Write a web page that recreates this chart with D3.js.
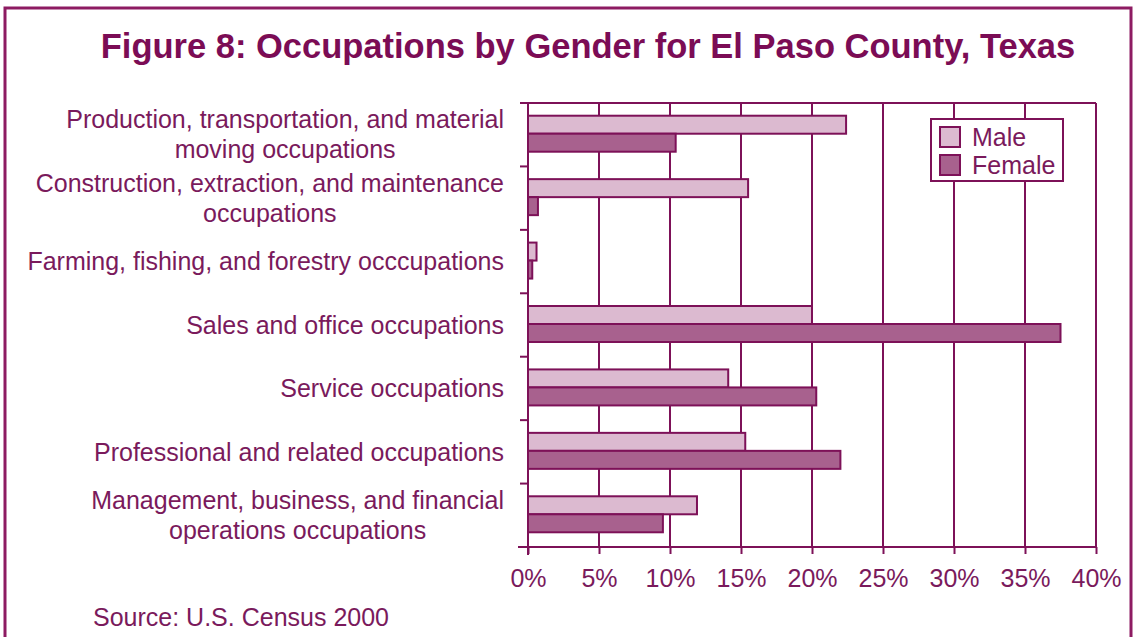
<!DOCTYPE html>
<html>
<head>
<meta charset="utf-8">
<script src="https://cdn.jsdelivr.net/npm/d3@7.9.0/dist/d3.min.js"></script>
<style>
  html, body { margin: 0; padding: 0; background: #fff; }
  svg { display: block; font-family: 'Liberation Sans', Arial, sans-serif; }
</style>
</head>
<body>
<svg id="chart" width="1137" height="637"></svg>
<script>
// categories from top to bottom, each split in lines as in the figure
const categories = [
  ['Production, transportation, and material', 'moving occupations'],
  ['Construction, extraction, and maintenance', 'occupations'],
  ['Farming, fishing, and forestry occcupations'],
  ['Sales and office occupations'],
  ['Service occupations'],
  ['Professional and related occupations'],
  ['Management, business, and financial', 'operations occupations'],
];
const maleValues = [22.4, 15.5, 0.6, 20.0, 14.1, 15.3, 11.9];
const femaleValues = [10.4, 0.7, 0.3, 37.5, 20.3, 22.0, 9.5];
const seriesNames = ['Male', 'Female'];
const xTicks = [0, 5, 10, 15, 20, 25, 30, 35, 40];

const INK = '#7d1158';
const TEXT = '#7a1a5c';
const MALE_FILL = '#dcbad0';
const FEMALE_FILL = '#a8618e';

const svg = d3.select('#chart');

// outer frame (bottom edge runs past the picture)
svg.append('path')
  .attr('d', 'M5,645 V8 H1131 V645')
  .attr('fill', 'none')
  .attr('stroke', '#8d1b62')
  .attr('stroke-width', 3);

svg.append('text')
  .attr('x', 588)
  .attr('y', 58)
  .attr('text-anchor', 'middle')
  .attr('font-size', 34.5)
  .attr('font-weight', 'bold')
  .attr('fill', '#7b0c55')
  .text('Figure 8: Occupations by Gender for El Paso County, Texas');

const plot = { left: 528, right: 1096, top: 103, bottom: 547 };

const x = d3.scaleLinear().domain([0, 40]).range([plot.left, plot.right]);
const y = d3.scaleBand()
  .domain(d3.range(categories.length))
  .range([plot.top, plot.bottom]);
const sub = d3.scaleBand()
  .domain(seriesNames)
  .range([0, 36]);

const g = svg.append('g');

// vertical gridlines
g.selectAll('line.grid')
  .data(xTicks.slice(1))
  .join('line')
  .attr('class', 'grid')
  .attr('x1', (d) => x(d))
  .attr('x2', (d) => x(d))
  .attr('y1', plot.top)
  .attr('y2', plot.bottom)
  .attr('stroke', INK)
  .attr('stroke-width', 2);

// top border of plot area
g.append('line')
  .attr('x1', plot.left - 8)
  .attr('x2', plot.right)
  .attr('y1', plot.top)
  .attr('y2', plot.top)
  .attr('stroke', INK)
  .attr('stroke-width', 2);

// bars
const rows = categories.map((c, i) => ({ i, Male: maleValues[i], Female: femaleValues[i] }));
const bandOffset = (y.bandwidth() - 36) / 2 - 1;

g.selectAll('g.row')
  .data(rows)
  .join('g')
  .attr('class', 'row')
  .attr('transform', (d) => `translate(0,${y(d.i) + bandOffset})`)
  .selectAll('rect')
  .data((d) => seriesNames.map((s) => ({ s, v: d[s] })))
  .join('rect')
  .attr('x', x(0))
  .attr('y', (d) => sub(d.s))
  .attr('width', (d) => x(d.v) - x(0))
  .attr('height', sub.bandwidth())
  .attr('fill', (d) => (d.s === 'Male' ? MALE_FILL : FEMALE_FILL))
  .attr('stroke', INK)
  .attr('stroke-width', 2);

// x axis
const xAxis = d3.axisBottom(x)
  .tickValues(xTicks)
  .tickSize(7)
  .tickPadding(15)
  .tickFormat((d) => d + '%');

const xg = svg.append('g')
  .attr('transform', `translate(0,${plot.bottom})`)
  .call(xAxis);
xg.select('.domain')
  .attr('d', `M${plot.left - 10},0H${plot.right}`)
  .attr('stroke', INK)
  .attr('stroke-width', 2);
xg.selectAll('.tick line').attr('stroke', INK).attr('stroke-width', 2);
xg.selectAll('.tick text')
  .attr('font-size', 25)
  .attr('font-family', "'Liberation Sans', Arial, sans-serif")
  .attr('fill', TEXT);

// y axis line with ticks at category boundaries
const boundaries = d3.range(categories.length + 1).map((i) => plot.top + i * y.step());
svg.append('line')
  .attr('x1', plot.left)
  .attr('x2', plot.left)
  .attr('y1', plot.top)
  .attr('y2', plot.bottom + 8)
  .attr('stroke', INK)
  .attr('stroke-width', 2);
svg.selectAll('line.ytick')
  .data(boundaries)
  .join('line')
  .attr('class', 'ytick')
  .attr('x1', plot.left - 8)
  .attr('x2', plot.left)
  .attr('y1', (d) => d)
  .attr('y2', (d) => d)
  .attr('stroke', INK)
  .attr('stroke-width', 2);

// category labels: right edge at 504, multi-line labels centred on their widest line
const labelRight = 504;
const lineGap = 30;
const labels = svg.selectAll('g.label')
  .data(categories)
  .join('g')
  .attr('class', 'label');

labels.each(function (lines, i) {
  const grp = d3.select(this);
  const cy = y(i) + y.bandwidth() / 2;
  const texts = grp.selectAll('text')
    .data(lines)
    .join('text')
    .attr('font-size', 25)
    .attr('fill', TEXT)
    .attr('dy', '0.35em')
    .attr('y', (d, j) => cy + (j - (lines.length - 1) / 2) * lineGap)
    .text((d) => d);
  const widths = texts.nodes().map((n) => n.getComputedTextLength());
  const maxW = d3.max(widths);
  texts.attr('text-anchor', 'middle').attr('x', labelRight - maxW / 2);
});

// legend
const legend = svg.append('g').attr('transform', 'translate(931,119)');
legend.append('rect')
  .attr('width', 132)
  .attr('height', 62)
  .attr('fill', '#fff')
  .attr('stroke', INK)
  .attr('stroke-width', 2);
const items = legend.selectAll('g.item')
  .data(seriesNames)
  .join('g')
  .attr('class', 'item')
  .attr('transform', (d, i) => `translate(9,${8 + i * 28})`);
items.append('rect')
  .attr('width', 20)
  .attr('height', 20)
  .attr('fill', (d) => (d === 'Male' ? MALE_FILL : FEMALE_FILL))
  .attr('stroke', INK)
  .attr('stroke-width', 2);
items.append('text')
  .attr('x', 32)
  .attr('y', 10)
  .attr('dy', '0.36em')
  .attr('font-size', 25)
  .attr('fill', TEXT)
  .text((d) => d);

svg.append('text')
  .attr('x', 93)
  .attr('y', 626)
  .attr('font-size', 25)
  .attr('fill', TEXT)
  .text('Source: U.S. Census 2000');
</script>
</body>
</html>
